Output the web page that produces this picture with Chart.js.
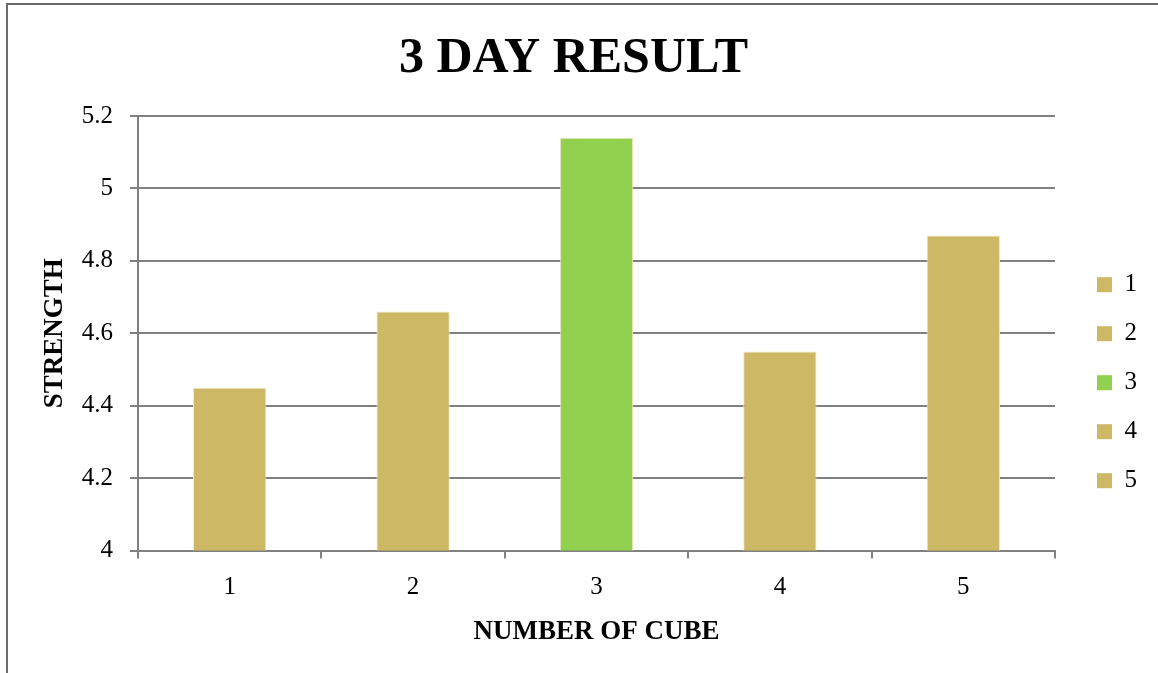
<!DOCTYPE html>
<html>
<head>
<meta charset="utf-8">
<title>3 DAY RESULT</title>
<script src="https://cdn.jsdelivr.net/npm/chart.js@4"></script>
<style>
  html, body { margin: 0; padding: 0; background: #fff; }
  .frame {
    position: absolute; left: 6px; top: 3px; right: 0; bottom: 0;
    border-top: 2px solid #6a6a6a; border-left: 2px solid #6a6a6a;
  }
  .wrap { position: absolute; left: 0; top: 0; width: 1158px; height: 673px; }
</style>
</head>
<body>
<div class="frame"></div>
<div class="wrap"><canvas id="resultChart"></canvas></div>
<script>
// cube numbers and 3-day strength
const cubes = ["1", "2", "3", "4", "5"];
const strength = [4.45, 4.66, 5.14, 4.55, 4.87];
const barColors = ["#CDB865", "#CDB865", "#92D050", "#CDB865", "#CDB865"];
const yTicks = [4, 4.2, 4.4, 4.6, 4.8, 5, 5.2];

const gridGray = "#808080";
Chart.defaults.font.family = "'Liberation Serif', 'Times New Roman', serif";
Chart.defaults.color = "#000";

new Chart(document.getElementById("resultChart"), {
  type: "bar",
  data: {
    labels: cubes,
    datasets: [{
      label: "STRENGTH",
      data: strength,
      backgroundColor: barColors,
      borderColor: "#F1E8C0",
      borderWidth: 1,
      barPercentage: 0.4,
      categoryPercentage: 1,
    }],
  },
  options: {
    responsive: true,
    maintainAspectRatio: false,
    animation: false,
    layout: { padding: { left: 0, right: 11, top: 0, bottom: 25 } },
    plugins: {
      title: {
        display: true,
        text: "3 DAY RESULT",
        font: { size: 50, weight: "bold" },
        color: "#000",
        padding: { top: 29, bottom: 27 },
      },
      legend: {
        position: "right",
        // empty title only pushes the entries down
        title: { display: true, text: "", padding: { top: 103, bottom: 0 } },
        labels: {
          boxWidth: 15,
          boxHeight: 15,
          padding: 24,
          font: { size: 25 },
          // one legend entry per cube, coloured like its bar
          generateLabels: () =>
            cubes.map((c, i) => ({
              text: c,
              fillStyle: barColors[i],
              strokeStyle: barColors[i],
              lineWidth: 0,
              index: i,
              datasetIndex: 0,
            })),
        },
      },
      tooltip: { enabled: false },
    },
    scales: {
      x: {
        offset: true,
        grid: {
          offset: true,
          drawOnChartArea: false,
          color: gridGray,
          lineWidth: 2,
          tickLength: 8,
        },
        border: { color: gridGray, width: 2 },
        ticks: { padding: 16, font: { size: 25, lineHeight: 1 } },
        title: {
          display: true,
          text: "NUMBER OF CUBE",
          font: { size: 27, weight: "bold" },
          padding: { top: 0, bottom: 0 },
        },
      },
      y: {
        min: 4,
        max: 5.2,
        afterBuildTicks: (scale) => {
          scale.ticks = yTicks.map((v) => ({ value: v }));
        },
        afterFit: (scale) => { scale.width = 138; },
        grid: { color: gridGray, lineWidth: 2, tickLength: 8 },
        border: { color: gridGray, width: 2 },
        ticks: {
          padding: 17,
          font: { size: 25 },
          callback: (v) => String(v),
        },
        title: {
          display: true,
          text: "STRENGTH",
          font: { size: 27, weight: "bold" },
          padding: { top: 39, bottom: 0 },
        },
      },
      // empty spacer between the plot and the legend
      gap: {
        type: "linear",
        position: "right",
        display: true,
        grid: { display: false },
        border: { display: false },
        ticks: { display: false },
        afterFit: (scale) => { scale.width = 18; },
      },
    },
  },
});
</script>
</body>
</html>
